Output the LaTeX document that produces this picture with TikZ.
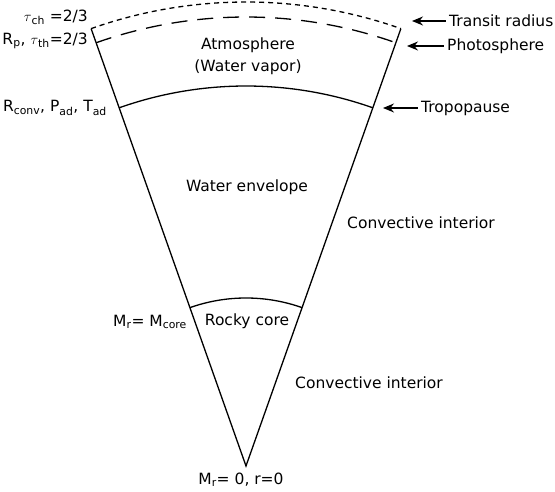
\documentclass[tikz,border=0pt]{standalone}
\usepackage{fontspec}
\setmainfont{DejaVu Sans}
\usepackage{amsmath, amssymb}
\usetikzlibrary{arrows.meta, calc}

\tikzset{
    lbl/.style={inner sep=0pt, font=\fontsize{15.5}{18}\selectfont},
    pointer/.style={-{Stealth[length=11pt, width=9pt]}, line width=1.5pt},
    wall/.style={line width=1.3pt}
}

\begin{document}
\begin{tikzpicture}[x=1pt, y=1pt]
    \useasboundingbox (-246,-26) rectangle (309,466);
    % Corners of the wedge
    \coordinate (apex) at (0,0);
    \coordinate (topL) at (109.5:464);
    \coordinate (topR) at (70.5:464);
    % Draw sides
    \draw[wall] (topL) -- (apex) -- (topR);
    % Transit radius and photosphere
    \draw[wall, dash pattern=on 5pt off 4pt] (topL) arc[start angle=109.5, end angle=70.5, radius=464];
    \draw[wall, dash pattern=on 16pt off 10pt] (109.5:449) arc[start angle=109.5, end angle=70.5, radius=449];
    % Tropopause and core boundary
    \foreach \r in {380,168} {
        \draw[wall] (109.5:\r) arc[start angle=109.5, end angle=70.5, radius=\r];
    }
    % Layer names
    \node[lbl] (atmo) at (2,421) {Atmosphere};
    \node[lbl] (vapor) at (2,399) {(Water vapor)};
    \node[lbl] (water) at (1,279) {Water envelope};
    \node[lbl] (rock) at (1,145) {Rocky core};
    \node[lbl, anchor=west] (conv1) at (101,243) {Convective interior};
    \node[lbl, anchor=west] (conv2) at (49,83) {Convective interior};
    % Left labels
    \node[lbl, anchor=east] (tauch) at (-158,449) {$\tau$\textsubscript{ch} =2/3};
    \node[lbl, anchor=east] (rp) at (-158,425) {R\textsubscript{p}, $\tau$\textsubscript{th}=2/3};
    \node[lbl, anchor=east] (rconv) at (-139,358) {R\textsubscript{conv}, P\textsubscript{ad}, T\textsubscript{ad}};
    \node[lbl, anchor=east] (mcore) at (-59,144) {M\textsubscript{r}= M\textsubscript{core}};
    \node[lbl] (center) at (-5,-14) {M\textsubscript{r}= 0, r=0};
    % Right labels with arrows
    \node[lbl, anchor=west] (transit) at (203,445) {Transit radius};
    \node[lbl, anchor=west] (photo) at (201,420) {Photosphere};
    \node[lbl, anchor=west] (tropo) at (175,358) {Tropopause};
    \coordinate (transitTip) at (166,445);
    \coordinate (photoTip) at (161,420);
    \coordinate (tropoTip) at (137,358);
    \draw[pointer] ([xshift=-3pt]transit.west) -- (transitTip);
    \draw[pointer] ([xshift=-3pt]photo.west) -- (photoTip);
    \draw[pointer] ([xshift=-3pt]tropo.west) -- (tropoTip);
\end{tikzpicture}
\end{document}
